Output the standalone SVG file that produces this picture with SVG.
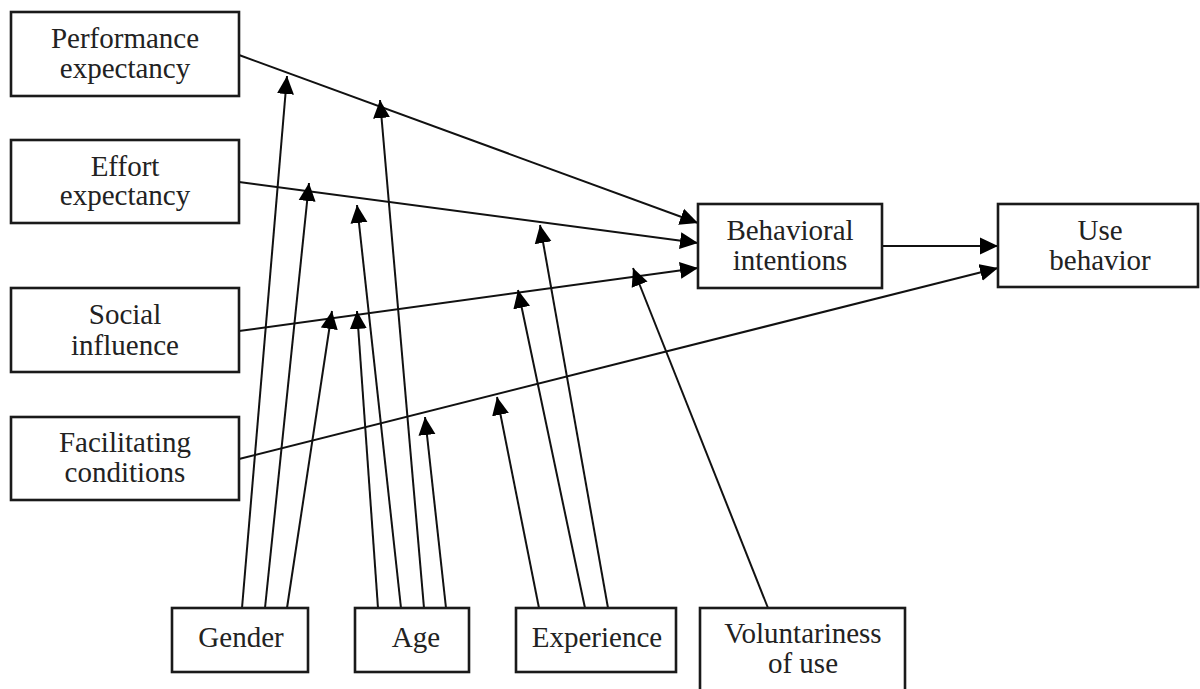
<svg xmlns="http://www.w3.org/2000/svg" width="1200" height="689" viewBox="0 0 1200 689">
<style>
.box{fill:#fff;stroke:#1a1a1a;stroke-width:2.6}
.t{font-family:"Liberation Serif","Times New Roman",serif;font-size:29px;fill:#222;text-anchor:middle}
.c{stroke:#111;stroke-width:2;fill:none;marker-end:url(#ah)}
</style>
<defs>
<marker id="ah" markerUnits="userSpaceOnUse" markerWidth="18" markerHeight="18" refX="18" refY="8.5" orient="auto" viewBox="0 0 18 17">
<path d="M0,0 L18,8.5 L0,17 z" fill="#000"/>
</marker>
</defs>
<rect width="1200" height="689" fill="#fff"/>
<g id="connectors">
<line class="c" x1="239" y1="55" x2="698" y2="223"/>
<line class="c" x1="239" y1="182" x2="698" y2="243"/>
<line class="c" x1="239" y1="331" x2="698" y2="268"/>
<line class="c" x1="239" y1="459" x2="998" y2="268"/>
<line class="c" x1="882" y1="246" x2="998" y2="246"/>
<line class="c" x1="242" y1="608" x2="287" y2="76"/>
<line class="c" x1="265" y1="608" x2="309" y2="183"/>
<line class="c" x1="287" y1="608" x2="332" y2="311"/>
<line class="c" x1="378" y1="608" x2="357" y2="311"/>
<line class="c" x1="401" y1="608" x2="357" y2="205"/>
<line class="c" x1="424" y1="608" x2="380" y2="100"/>
<line class="c" x1="446" y1="608" x2="425" y2="417"/>
<line class="c" x1="539" y1="608" x2="497" y2="397"/>
<line class="c" x1="585" y1="608" x2="518" y2="290"/>
<line class="c" x1="608" y1="608" x2="540" y2="225"/>
<line class="c" x1="768" y1="608" x2="633" y2="268"/>
</g>
<g id="performance">
<rect class="box" x="11" y="12" width="228" height="84"/>
<text class="t" x="125" y="48">Performance</text>
<text class="t" x="125" y="78">expectancy</text>
</g>
<g id="effort">
<rect class="box" x="11" y="140" width="228" height="83"/>
<text class="t" x="125" y="176">Effort</text>
<text class="t" x="125" y="205">expectancy</text>
</g>
<g id="social">
<rect class="box" x="11" y="288" width="228" height="84"/>
<text class="t" x="125" y="324">Social</text>
<text class="t" x="125" y="355">influence</text>
</g>
<g id="facilitating">
<rect class="box" x="11" y="417" width="228" height="83"/>
<text class="t" x="125" y="452">Facilitating</text>
<text class="t" x="125" y="482">conditions</text>
</g>
<g id="intentions">
<rect class="box" x="698" y="204" width="184" height="84"/>
<text class="t" x="790" y="240">Behavioral</text>
<text class="t" x="790" y="270">intentions</text>
</g>
<g id="use">
<rect class="box" x="998" y="204" width="200" height="83"/>
<text class="t" x="1100" y="240">Use</text>
<text class="t" x="1100" y="270">behavior</text>
</g>
<g id="gender">
<rect class="box" x="172" y="608" width="136" height="64"/>
<text class="t" x="241" y="647">Gender</text>
</g>
<g id="age">
<rect class="box" x="355" y="608" width="114" height="64"/>
<text class="t" x="416" y="647">Age</text>
</g>
<g id="experience">
<rect class="box" x="516" y="608" width="160" height="64"/>
<text class="t" x="597" y="647">Experience</text>
</g>
<g id="voluntariness">
<rect class="box" x="700" y="608" width="205" height="100"/>
<text class="t" x="803" y="643">Voluntariness</text>
<text class="t" x="803" y="673">of use</text>
</g>
</svg>
